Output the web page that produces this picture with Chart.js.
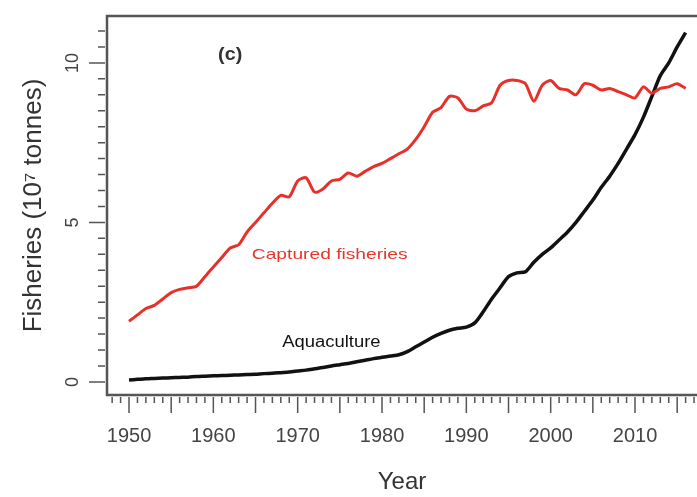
<!DOCTYPE html>
<html>
<head>
<meta charset="utf-8">
<script src="https://cdn.jsdelivr.net/npm/chart.js@4.4.1/dist/chart.umd.min.js"></script>
<style>
  html, body { margin: 0; padding: 0; background: #fff; }
  #wrap { width: 697px; height: 497px; }
</style>
</head>
<body>
<div id="wrap"><canvas id="grafico" width="697" height="497"></canvas></div>
<script>
// Anos (eixo x)
const anos = [1950,1951,1952,1953,1954,1955,1956,1957,1958,1959,
  1960,1961,1962,1963,1964,1965,1966,1967,1968,1969,
  1970,1971,1972,1973,1974,1975,1976,1977,1978,1979,
  1980,1981,1982,1983,1984,1985,1986,1987,1988,1989,
  1990,1991,1992,1993,1994,1995,1996,1997,1998,1999,
  2000,2001,2002,2003,2004,2005,2006,2007,2008,2009,
  2010,2011,2012,2013,2014,2015,2016];

// Captured fisheries (10^7 t)
const capturas = [1.9,2.1,2.3,2.4,2.6,2.8,2.9,2.95,3.0,3.3,
  3.6,3.9,4.2,4.3,4.7,5.0,5.3,5.6,5.85,5.8,
  6.3,6.4,5.95,6.05,6.3,6.35,6.55,6.45,6.6,6.75,
  6.85,7.0,7.15,7.3,7.6,8.0,8.45,8.6,8.95,8.9,
  8.55,8.5,8.65,8.75,9.3,9.45,9.45,9.35,8.8,9.3,
  9.45,9.2,9.15,9.0,9.35,9.3,9.15,9.2,9.1,9.0,
  8.9,9.25,9.05,9.2,9.25,9.35,9.2];

// Aquaculture (10^7 t)
const aquicultura = [0.06,0.08,0.1,0.11,0.12,0.13,0.14,0.15,0.17,0.18,
  0.19,0.2,0.21,0.22,0.23,0.24,0.26,0.27,0.29,0.31,
  0.34,0.37,0.41,0.45,0.5,0.54,0.58,0.63,0.68,0.73,
  0.77,0.81,0.85,0.95,1.1,1.25,1.4,1.52,1.62,1.68,
  1.72,1.85,2.2,2.6,2.95,3.3,3.42,3.45,3.75,4.0,
  4.2,4.45,4.7,5.0,5.35,5.7,6.1,6.45,6.85,7.3,
  7.75,8.3,8.95,9.6,10.0,10.5,10.95];

// Rótulos do eixo y
const rotulosY = [0, 5, 10];

// texto esticado na horizontal (a figura original é mais larga)
function textoLargo(ctx, txt, px, py, esticar) {
  ctx.save();
  ctx.translate(px, py);
  ctx.scale(esticar, 1);
  ctx.fillText(txt, 0, 0);
  ctx.restore();
}

// Moldura, marcas dos eixos e textos dentro do gráfico
const molduraPlugin = {
  id: 'moldura',
  afterDraw(chart) {
    const { ctx, chartArea: a, scales: { x, y } } = chart;
    ctx.save();
    ctx.strokeStyle = '#555';
    ctx.lineWidth = 2.5;
    ctx.beginPath();
    ctx.moveTo(a.right, a.top);
    ctx.lineTo(a.left, a.top);
    ctx.lineTo(a.left, a.bottom);
    ctx.lineTo(a.right, a.bottom);
    ctx.stroke();

    // marcas do eixo x
    ctx.lineWidth = 1.5;
    ctx.beginPath();
    for (let ano = 1948; ano <= 2017; ano++) {
      const px = x.getPixelForValue(ano);
      const len = ano % 5 === 0 ? 16 : 6;
      ctx.moveTo(px, a.bottom + 2);
      ctx.lineTo(px, a.bottom + 2 + len);
    }
    // marcas do eixo y
    for (let v = 0; v <= 11; v += 0.5) {
      const py = y.getPixelForValue(v);
      const len = v % 5 === 0 ? 16 : 7;
      ctx.moveTo(a.left - 2, py);
      ctx.lineTo(a.left - 2 - len, py);
    }
    ctx.stroke();

    // rótulos do eixo y (girados)
    ctx.fillStyle = '#444';
    ctx.font = '18px "Liberation Sans", Arial, sans-serif';
    ctx.textAlign = 'center';
    ctx.textBaseline = 'middle';
    rotulosY.forEach(v => {
      ctx.save();
      ctx.translate(73, y.getPixelForValue(v));
      ctx.rotate(-Math.PI / 2);
      ctx.fillText(String(v), 0, 0);
      ctx.restore();
    });

    // textos
    ctx.fillStyle = '#333';
    ctx.font = 'bold 18px "Liberation Sans", Arial, sans-serif';
    textoLargo(ctx, '(c)', x.getPixelForValue(1962), y.getPixelForValue(10.25), 1.1);
    ctx.fillStyle = '#e8362c';
    ctx.font = '15px "Liberation Sans", Arial, sans-serif';
    textoLargo(ctx, 'Captured fisheries', x.getPixelForValue(1973.8), y.getPixelForValue(3.98), 1.28);
    ctx.fillStyle = '#111';
    ctx.font = '16px "Liberation Sans", Arial, sans-serif';
    textoLargo(ctx, 'Aquaculture', x.getPixelForValue(1974), y.getPixelForValue(1.22), 1.15);
    ctx.restore();
  }
};

const ctx = document.getElementById('grafico').getContext('2d');
const chart = new Chart(ctx, {
  type: 'line',
  data: {
    datasets: [{
      label: 'Captured fisheries',
      data: anos.map((a, i) => ({ x: a, y: capturas[i] })),
      borderColor: '#e8302a',
      borderWidth: 3,
      pointRadius: 0,
      tension: 0.25,
      fill: false
    }, {
      label: 'Aquaculture',
      data: anos.map((a, i) => ({ x: a, y: aquicultura[i] })),
      borderColor: '#111',
      borderWidth: 3.5,
      pointRadius: 0,
      tension: 0.25,
      fill: false
    }]
  },
  options: {
    responsive: false,
    animation: false,
    layout: { padding: { top: 16, right: 0, left: 0, bottom: 0 } },
    plugins: { legend: { display: false }, tooltip: { enabled: false } },
    scales: {
      x: {
        type: 'linear',
        min: 1947.39,
        max: 2017.35,
        afterFit: s => { s.height = 102; s.paddingLeft = 0; s.paddingRight = 0; },
        grid: { display: false, drawTicks: false },
        border: { display: false },
        ticks: {
          stepSize: 1,
          autoSkip: false,
          maxRotation: 0,
          padding: 29,
          color: '#444',
          font: { size: 20, family: '"Liberation Sans", Arial, sans-serif' },
          callback: v => (v % 10 === 0 ? String(v) : '')
        },
        title: {
          display: true,
          text: 'Year',
          color: '#333',
          font: { size: 24, family: '"Liberation Sans", Arial, sans-serif' },
          padding: { top: 0, bottom: 0 }
        }
      },
      y: {
        min: -0.41,
        max: 11.47,
        afterFit: s => { s.width = 107; },
        grid: { display: false, drawTicks: false },
        border: { display: false },
        ticks: { display: false },
        title: {
          display: true,
          text: 'Fisheries (10\u2077 tonnes)',
          color: '#333',
          font: { size: 26, family: '"Liberation Sans", Arial, sans-serif' },
          padding: { top: 18, bottom: 0 }
        }
      }
    }
  },
  plugins: [molduraPlugin]
});
</script>
</body>
</html>
